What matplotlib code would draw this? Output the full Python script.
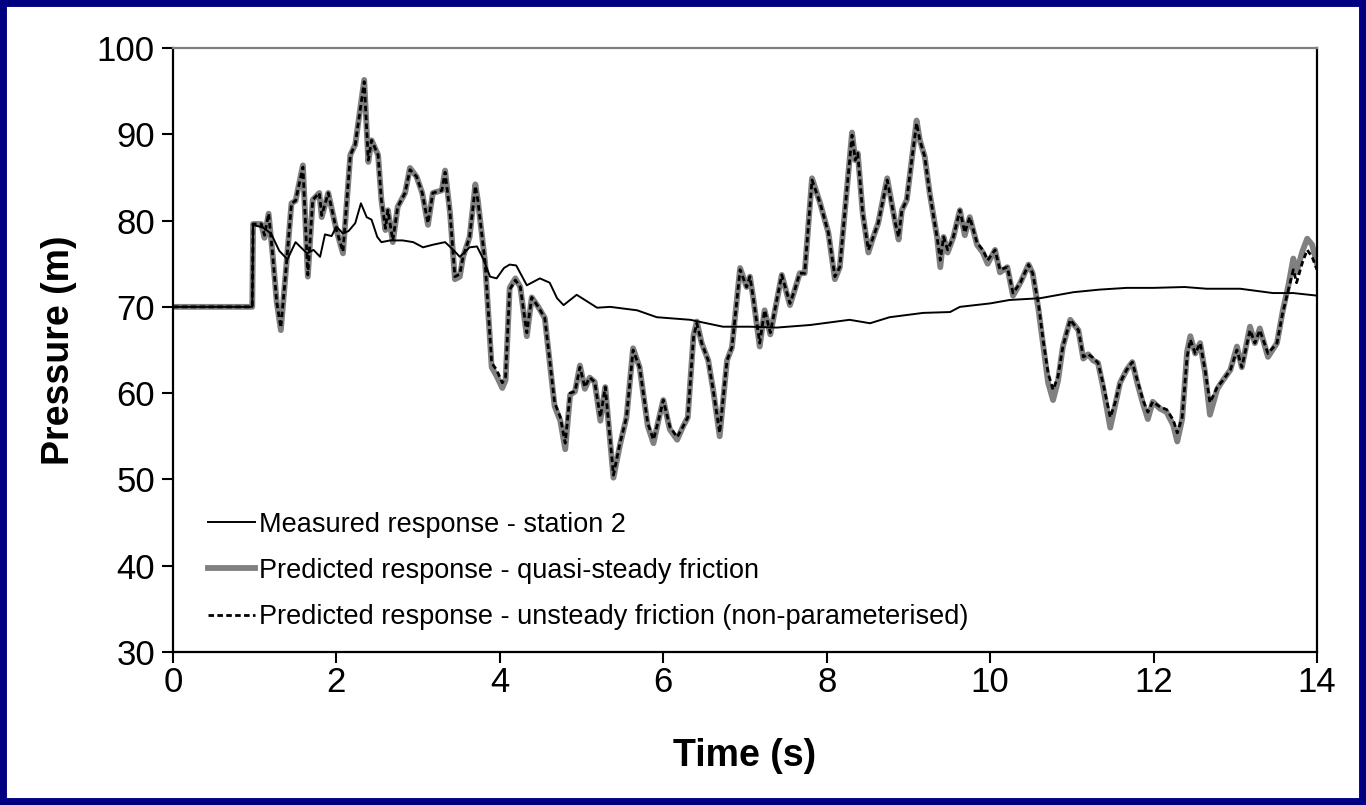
import matplotlib.pyplot as plt
from matplotlib.patches import Rectangle
import numpy as np

# ------------------- DATA -------------------
t_pred = [0.00, 0.97, 0.98, 1.08, 1.12, 1.17, 1.22, 1.27, 1.32, 1.38,
          1.45, 1.50, 1.59, 1.65, 1.71, 1.79, 1.82, 1.90, 2.00, 2.08,
          2.17, 2.23, 2.34, 2.39, 2.43, 2.51, 2.55, 2.60, 2.63, 2.69,
          2.75, 2.84, 2.90, 2.98, 3.05, 3.12, 3.18, 3.29, 3.33, 3.39,
          3.45, 3.51, 3.55, 3.63, 3.70, 3.73, 3.82, 3.90, 3.96, 4.03,
          4.07, 4.12, 4.19, 4.25, 4.33, 4.39, 4.47, 4.55, 4.67, 4.74,
          4.80, 4.86, 4.92, 4.98, 5.04, 5.10, 5.16, 5.23, 5.29, 5.39,
          5.47, 5.55, 5.63, 5.71, 5.81, 5.88, 5.94, 6.00, 6.08, 6.17,
          6.24, 6.30, 6.37, 6.41, 6.47, 6.55, 6.61, 6.69, 6.78, 6.84,
          6.94, 7.02, 7.06, 7.10, 7.18, 7.24, 7.31, 7.45, 7.55, 7.61,
          7.67, 7.73, 7.82, 7.92, 8.02, 8.10, 8.16, 8.25, 8.31, 8.35,
          8.38, 8.44, 8.51, 8.57, 8.63, 8.74, 8.84, 8.88, 8.92, 8.98,
          9.02, 9.10, 9.14, 9.20, 9.26, 9.35, 9.39, 9.43, 9.48, 9.55,
          9.63, 9.69, 9.75, 9.84, 9.91, 9.97, 10.06, 10.12, 10.21, 10.28,
          10.37, 10.47, 10.52, 10.59, 10.65, 10.71, 10.77, 10.83, 10.89, 10.98,
          11.08, 11.14, 11.20, 11.26, 11.32, 11.38, 11.47, 11.53, 11.59, 11.67,
          11.74, 11.80, 11.87, 11.93, 11.99, 12.08, 12.16, 12.24, 12.29, 12.35,
          12.41, 12.45, 12.51, 12.57, 12.63, 12.69, 12.78, 12.85, 12.94, 13.02,
          13.08, 13.18, 13.24, 13.30, 13.40, 13.51, 13.58, 13.65, 13.71, 13.75,
          13.82, 13.88, 13.94, 14.00]

# unsteady friction (dashed)
p_unsteady = [70.0, 70.0, 79.6, 79.6, 78.3, 80.8, 76.0, 70.5, 67.6, 74.0,
              82.0, 82.3, 86.2, 73.7, 82.4, 83.2, 80.6, 83.2, 78.9, 76.4,
              87.6, 88.8, 96.1, 87.0, 89.3, 87.6, 82.4, 79.1, 81.2, 77.7,
              81.6, 83.2, 85.9, 85.1, 83.2, 79.7, 83.2, 83.5, 85.6, 80.9,
              73.5, 73.8, 75.8, 78.1, 84.0, 82.4, 75.1, 63.5, 62.7, 61.2,
              61.9, 72.0, 73.1, 72.3, 67.0, 71.1, 70.0, 68.7, 58.9, 57.2,
              54.2, 60.0, 60.2, 63.0, 60.7, 61.8, 61.3, 57.2, 60.7, 50.5,
              54.2, 57.2, 65.0, 63.0, 56.5, 54.6, 56.8, 59.2, 56.1, 54.9,
              56.1, 57.2, 66.5, 68.1, 65.8, 63.8, 60.4, 55.4, 63.8, 65.3,
              74.3, 72.3, 73.5, 71.1, 65.8, 69.6, 67.0, 73.7, 70.4, 72.0,
              73.9, 73.9, 84.7, 82.0, 78.6, 73.5, 74.6, 83.9, 89.9, 87.0,
              87.8, 80.9, 76.6, 78.1, 79.7, 84.7, 79.7, 78.1, 81.2, 82.4,
              85.5, 91.3, 89.3, 87.4, 83.2, 78.1, 75.4, 78.1, 76.6, 78.1,
              81.2, 78.6, 80.4, 77.4, 76.6, 75.4, 76.6, 74.3, 74.6, 71.6,
              72.8, 74.9, 73.9, 70.4, 66.0, 62.3, 60.4, 61.9, 65.4, 68.5,
              67.3, 64.2, 64.5, 64.1, 63.5, 61.2, 57.2, 58.9, 61.2, 62.7,
              63.6, 61.5, 59.2, 57.8, 59.0, 58.4, 58.1, 56.9, 55.4, 57.2,
              64.2, 66.2, 64.6, 65.8, 62.7, 58.9, 60.7, 61.5, 62.7, 65.0,
              63.0, 67.3, 65.8, 67.3, 64.6, 65.8, 69.3, 72.0, 74.3, 72.8,
              75.1, 76.6, 75.8, 74.3]

# quasi-steady friction (thick grey)
p_quasi = [70.0, 70.0, 79.6, 79.6, 78.0, 80.8, 76.0, 70.5, 67.3, 74.0,
           82.0, 82.3, 86.4, 73.5, 82.4, 83.2, 80.4, 83.2, 78.9, 76.2,
           87.6, 88.8, 96.3, 86.8, 89.3, 87.6, 82.4, 78.9, 81.2, 77.5,
           81.6, 83.2, 86.1, 85.1, 83.2, 79.5, 83.2, 83.5, 85.8, 80.9,
           73.2, 73.5, 75.8, 78.1, 84.2, 82.4, 75.1, 63.0, 62.0, 60.6,
           61.5, 72.2, 73.3, 72.3, 66.6, 71.1, 70.0, 68.7, 58.5, 56.8,
           53.5, 59.8, 60.2, 63.2, 60.5, 61.8, 61.3, 56.8, 60.7, 50.2,
           54.0, 57.2, 65.2, 63.0, 56.2, 54.2, 56.8, 59.2, 55.8, 54.6,
           56.1, 57.2, 66.7, 68.3, 65.8, 63.8, 60.4, 55.0, 63.8, 65.3,
           74.5, 72.3, 73.5, 71.1, 65.4, 69.6, 66.8, 73.7, 70.2, 72.0,
           73.9, 73.9, 84.9, 82.0, 78.6, 73.2, 74.6, 83.9, 90.2, 87.0,
           87.8, 80.9, 76.3, 78.1, 79.7, 84.9, 79.7, 77.8, 81.2, 82.4,
           85.5, 91.6, 89.3, 87.4, 83.2, 78.1, 74.6, 78.1, 76.3, 78.1,
           81.2, 78.3, 80.4, 77.2, 76.3, 75.0, 76.6, 74.0, 74.6, 71.3,
           72.8, 74.9, 73.9, 69.8, 65.5, 61.2, 59.2, 61.4, 65.4, 68.5,
           67.3, 64.0, 64.5, 63.8, 63.5, 60.8, 56.0, 58.6, 61.2, 62.7,
           63.6, 61.2, 58.8, 57.0, 59.0, 58.2, 57.8, 56.3, 54.4, 57.0,
           64.8, 66.6, 64.6, 65.8, 62.4, 57.5, 60.5, 61.5, 62.7, 65.4,
           63.0, 67.7, 65.8, 67.5, 64.2, 65.8, 69.5, 72.5, 75.6, 74.0,
           76.4, 77.9, 77.2, 75.0]

t_meas = [0.00, 0.97, 0.98, 1.10, 1.20, 1.30, 1.40, 1.50, 1.64, 1.72,
          1.80, 1.86, 1.94, 2.00, 2.08, 2.15, 2.23, 2.30, 2.37, 2.43,
          2.50, 2.55, 2.66, 2.81, 2.94, 3.06, 3.18, 3.33, 3.43, 3.51,
          3.63, 3.72, 3.80, 3.88, 3.96, 4.05, 4.12, 4.20, 4.33, 4.49,
          4.61, 4.70, 4.78, 4.94, 5.19, 5.35, 5.68, 5.92, 6.33, 6.73,
          7.06, 7.39, 7.80, 8.04, 8.28, 8.53, 8.77, 9.18, 9.51, 9.63,
          10.00, 10.24, 10.61, 11.02, 11.34, 11.67, 12.00, 12.38, 12.65, 13.06,
          13.46, 13.71, 14.00]
p_meas = [70.0, 70.0, 79.5, 79.2, 78.5, 76.5, 75.5, 77.5, 76.2, 76.6,
          75.8, 78.4, 78.2, 79.3, 78.5, 78.8, 79.7, 82.0, 80.4, 80.1,
          78.1, 77.5, 77.7, 77.7, 77.5, 76.9, 77.2, 77.5, 76.6, 75.8,
          76.9, 77.0, 75.5, 73.5, 73.3, 74.5, 74.9, 74.8, 72.5, 73.3,
          72.8, 71.0, 70.2, 71.4, 69.9, 70.0, 69.6, 68.8, 68.5, 67.7,
          67.7, 67.6, 67.9, 68.2, 68.5, 68.1, 68.8, 69.3, 69.4, 70.0,
          70.4, 70.8, 71.0, 71.7, 72.0, 72.2, 72.2, 72.3, 72.1, 72.1,
          71.6, 71.6, 71.3]

labels = ["Measured response - station 2",
          "Predicted response - quasi-steady friction",
          "Predicted response - unsteady friction (non-parameterised)"]
x_ticks = np.arange(0, 15, 2)
y_ticks = np.arange(30, 101, 10)

# ------------------- FIGURE -------------------
plt.rcParams['font.family'] = ['Liberation Sans', 'DejaVu Sans']

fig = plt.figure(figsize=(13.66, 8.05), dpi=100, facecolor="white")
# navy frame round the page
fig.patches.append(Rectangle((0, 0), 1, 1, transform=fig.transFigure,
                             facecolor="none", edgecolor="#000080",
                             linewidth=10, zorder=10))

ax = fig.add_axes([173 / 1366, 153 / 805, 1144 / 1366, 604 / 805])

ax.plot(t_pred, p_quasi, color="#808080", lw=4.2, label=labels[1], zorder=2)
ax.plot(t_meas, p_meas, color="black", lw=1.4, label=labels[0], zorder=3)
ax.plot(t_pred, p_unsteady, color="black", lw=2.0, ls=(0, (2.0, 1.2)),
        label=labels[2], zorder=4)

ax.set_xlim(0, 14)
ax.set_ylim(30, 100)
ax.set_xticks(x_ticks)
ax.set_yticks(y_ticks)
ax.tick_params(direction="out", length=8, width=1.5, labelsize=25)
ax.tick_params(axis="x", pad=2)
ax.tick_params(axis="y", pad=5)

for side in ["left", "bottom", "right"]:
    ax.spines[side].set_color("black")
    ax.spines[side].set_linewidth(1.6)
ax.spines["top"].set_color("#808080")
ax.spines["top"].set_linewidth(1.6)

ax.set_xlabel("Time (s)", fontsize=27, fontweight="bold", labelpad=28)
ax.set_ylabel("Pressure (m)", fontsize=27, fontweight="bold", labelpad=14)

handles, labs = ax.get_legend_handles_labels()
order = [1, 0, 2]
leg = ax.legend([handles[i] for i in order], [labs[i] for i in order],
                loc="lower left", bbox_to_anchor=(0.031, 0.036),
                frameon=False, handlelength=1.7, handletextpad=0.15,
                labelspacing=0.75, borderpad=0, borderaxespad=0,
                prop={"size": 19.5})

fig.savefig("out.png", dpi=100)
